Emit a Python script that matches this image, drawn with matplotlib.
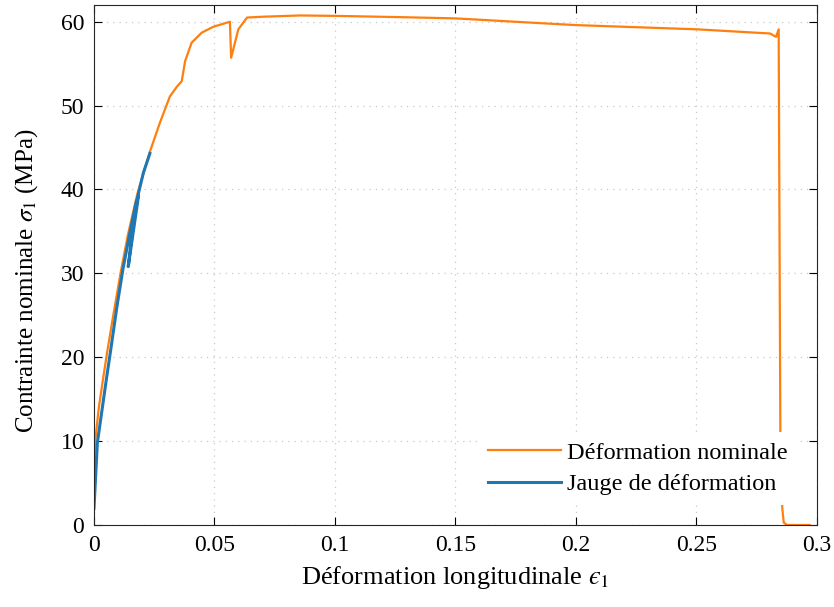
import matplotlib
matplotlib.use("Agg")
import matplotlib.pyplot as plt

# Déformation nominale (orange)
nom_x = [0.0, 0.0005, 0.002, 0.0037, 0.0054, 0.008, 0.011, 0.014, 0.018, 0.0232,
         0.0274, 0.0315, 0.0345, 0.0364, 0.0378, 0.0405, 0.0447, 0.0495, 0.0564,
         0.0569, 0.0599, 0.0635, 0.0700, 0.0855, 0.1, 0.127, 0.15, 0.181, 0.2,
         0.25, 0.2805, 0.283, 0.2841, 0.2848, 0.2852, 0.2856, 0.2862, 0.2875, 0.297]
nom_y = [5.7, 10.0, 14.0, 17.3, 20.5, 25.0, 30.0, 34.5, 39.5, 44.5,
         48.0, 51.1, 52.3, 52.9, 55.3, 57.5, 58.7, 59.4, 60.0,
         55.7, 59.1, 60.5, 60.6, 60.75, 60.7, 60.55, 60.4, 59.9, 59.6,
         59.1, 58.6, 58.2, 59.1, 11.0, 7.5, 2.0, 0.3, 0.0, 0.0]

# Jauge de déformation (bleu)
gauge_x = [0.0, 0.0014, 0.0051, 0.007, 0.0095, 0.012, 0.015, 0.0175, 0.0185,
           0.0142, 0.0155, 0.0172, 0.0185, 0.0205, 0.0232]
gauge_y = [2.0, 9.8, 17.3, 21.0, 26.0, 30.5, 35.0, 38.5, 39.3,
           30.8, 34.0, 37.5, 39.6, 42.0, 44.3]

xticks = [0, 0.05, 0.1, 0.15, 0.2, 0.25, 0.3]
xtick_labels = ["0", "0.05", "0.1", "0.15", "0.2", "0.25", "0.3"]
yticks = [0, 10, 20, 30, 40, 50, 60]

plt.rcParams['font.family'] = ['Liberation Serif', 'DejaVu Serif']
plt.rcParams['mathtext.fontset'] = 'stix'

fig = plt.figure(figsize=(8.34, 6.07), dpi=100)
ax = fig.add_axes([0.1127, 0.1351, 0.8669, 0.8567])

ax.plot(nom_x, nom_y, color='#ff7f0e', lw=1.6, label='Déformation nominale')
ax.plot(gauge_x, gauge_y, color='#1f77b4', lw=2.2, label='Jauge de déformation')

ax.set_xlim(0, 0.3)
ax.set_ylim(0, 62)
ax.set_xticks(xticks)
ax.set_xticklabels(xtick_labels)
ax.set_yticks(yticks)
ax.tick_params(direction='in', top=True, right=True, length=6, labelsize=17, pad=7)
ax.grid(True, linestyle=(0, (1, 4)), color='#c8c8c8', lw=0.9)
for s in ax.spines.values():
    s.set_color('#262626')

ax.set_xlabel('Déformation longitudinale $ϵ_1$', fontsize=19, labelpad=6)
ax.set_ylabel(r'Contrainte nominale $\sigma_1$ (MPa)', fontsize=18, labelpad=15)
ax.yaxis.label.set_y(0.47)

leg = ax.legend(loc='lower right', fontsize=17.5, handlelength=3.0,
                handletextpad=0.25, frameon=True, labelspacing=0.4,
                framealpha=1, facecolor='white', edgecolor='none',
                bbox_to_anchor=(0.99, 0.015))

fig.savefig('out.png', dpi=100)
